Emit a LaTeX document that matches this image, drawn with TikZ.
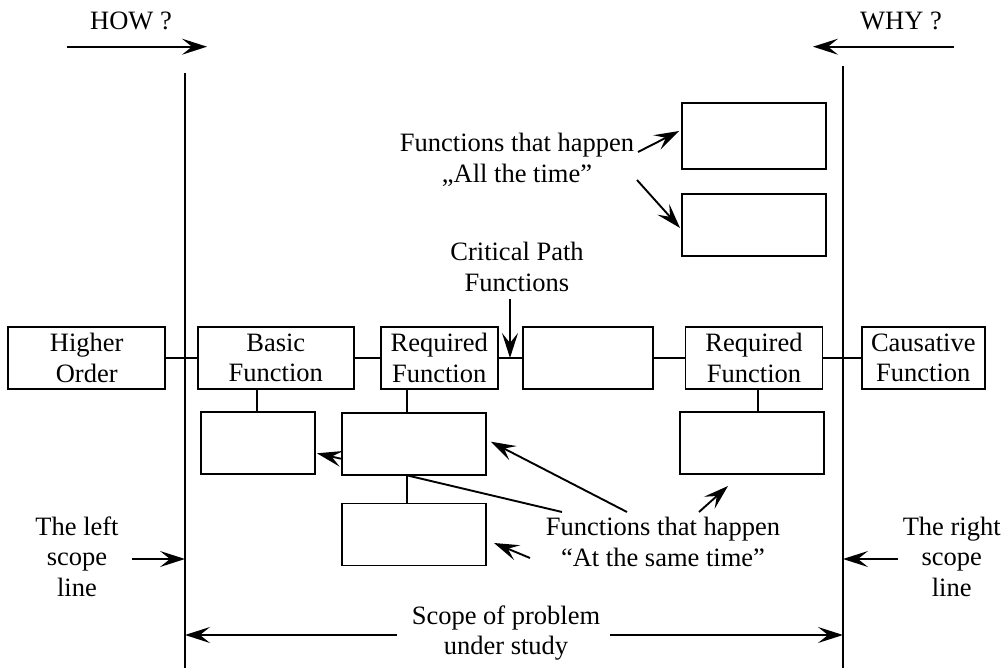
\documentclass[tikz,border=0pt]{standalone}
\usepackage{fontspec}
\setmainfont{Liberation Serif}
\usetikzlibrary{arrows.meta,calc}
\begin{document}
\begin{tikzpicture}[x=1pt,y=-1pt,
  every node/.style={font=\fontsize{26.5}{30.5}\selectfont, inner sep=0pt, align=center},
  fbox/.style={draw, line width=1.9pt, minimum height=62pt},
  ln/.style={line width=1.9pt},
  arr/.style={line width=1.9pt, -{Stealth[length=25pt,width=16pt,inset=10pt]}},
]
\useasboundingbox (0,0) rectangle (1005,668);

% main row
\node[fbox, minimum width=157pt] (HO) at (86.7,358) {Higher\\Order};
\node[fbox, minimum width=156pt] (BF) at (275.8,358) {Basic\\Function};
\node[fbox, minimum width=117pt] (RF1) at (439.2,358) {Required\\Function};
\node[fbox, minimum width=130pt] (EB) at (588.3,358) {};
\node[fbox, minimum width=137pt] (RF2) at (754,358) {Required\\Function};
\node[fbox, minimum width=123pt] (CF) at (923.3,358) {Causative\\Function};
% lower boxes
\node[fbox, minimum width=114pt] (LB) at (258,443.3) {};
\node[fbox, minimum width=144pt] (LM) at (413.8,443.7) {};
\node[fbox, minimum width=144pt] (LL) at (413.8,534.5) {};
\node[fbox, minimum width=144pt] (LR) at (752,443.3) {};
% top boxes
\node[fbox, minimum width=144pt, minimum height=66pt] (T1) at (753.7,136) {};
\node[fbox, minimum width=144pt] (T2) at (754,225) {};

% main line
\draw[ln] (HO.east) -- (BF.west);
\draw[ln] (BF.east) -- (RF1.west);
\draw[ln] (RF1.east) -- (EB.west);
\draw[ln] (EB.east) -- (RF2.west);
\draw[ln] (RF2.east) -- (CF.west);

% vertical connectors
\coordinate (v1) at ($(LB.north)+(-1.3,0)$);
\draw[ln] (v1) -- (v1 |- BF.south);
\coordinate (v2) at ($(LM.north)+(-6.5,0)$);
\draw[ln] (v2) -- (v2 |- RF1.south);
\coordinate (v3) at ($(LL.north)+(-6.5,0)$);
\draw[ln] (v3) -- (v3 |- LM.south);
\coordinate (v4) at ($(LR.north)+(6.3,0)$);
\draw[ln] (v4) -- (v4 |- RF2.south);

% scope lines
\coordinate (SLt) at (185,73);
\coordinate (SLb) at (185,668);
\coordinate (SRt) at (843,66);
\coordinate (SRb) at (843,668);
\draw[ln] (SLt) -- (SLb);
\draw[ln] (SRt) -- (SRb);

% texts
\node (how) at (131,21) {HOW ?};
\node (why) at (901,21) {WHY ?};
\node (allt) at (517,160) {Functions that happen\\„All the time”};
\node (cp) at (517,267) {Critical Path\\Functions};
\node (same) at (663,542) {Functions that happen\\“At the same time”};
\node (ls) at (77,556.5) {The left\\scope\\line};
\node (rs) at (951.7,556.5) {The right\\scope\\line};
\node (sc) at (506,633) {Scope of problem\\under study};

% HOW / WHY arrows
\coordinate (h1) at (67,46.7);
\coordinate (h2) at (207,46.7);
\draw[arr] (h1) -- (h2);
\coordinate (w1) at (954,46.7);
\coordinate (w2) at (813,46.7);
\draw[arr] (w1) -- (w2);

% all the time arrows
\coordinate (a1) at (638,152);
\draw[arr] (a1) -- ($(T1.west)+(-1.5,-5)$);
\coordinate (a2) at (637,180);
\draw[arr] (a2) -- ($(T2.west)+(-1,3)$);

% critical path arrow
\coordinate (c1) at (510,299);
\coordinate (c2) at (510,358);
\draw[arr] (c1) -- (c2);

% LM -> LB arrow
\draw[arr] ($(LM.west)+(0,15)$) -- ($(LB.east)+(1,10)$);

% same time arrows
\coordinate (s1) at (627,512);
\draw[arr] (s1) -- ($(LM.east)+(4,-2)$);
\coordinate (s2) at (562,512);
\draw[ln] ($(LM.south)+(-5.5,0)$) -- (s2);
\coordinate (s3) at (699,512);
\coordinate (s4) at (728,486);
\draw[arr] (s3) -- (s4);
\coordinate (s5) at (530,558);
\coordinate (s6) at (494,543);
\draw[arr] (s5) -- (s6);

% scope arrows
\coordinate (l1) at (132,559);
\draw[arr] (l1) -- (l1 -| SLt);
\coordinate (r1) at (898,559);
\draw[arr] (r1) -- (r1 -| SRt);
\coordinate (b1) at (397,635);
\draw[arr] (b1) -- (b1 -| SLt);
\coordinate (b2) at (610,635);
\draw[arr] (b2) -- (b2 -| SRt);
\end{tikzpicture}
\end{document}
